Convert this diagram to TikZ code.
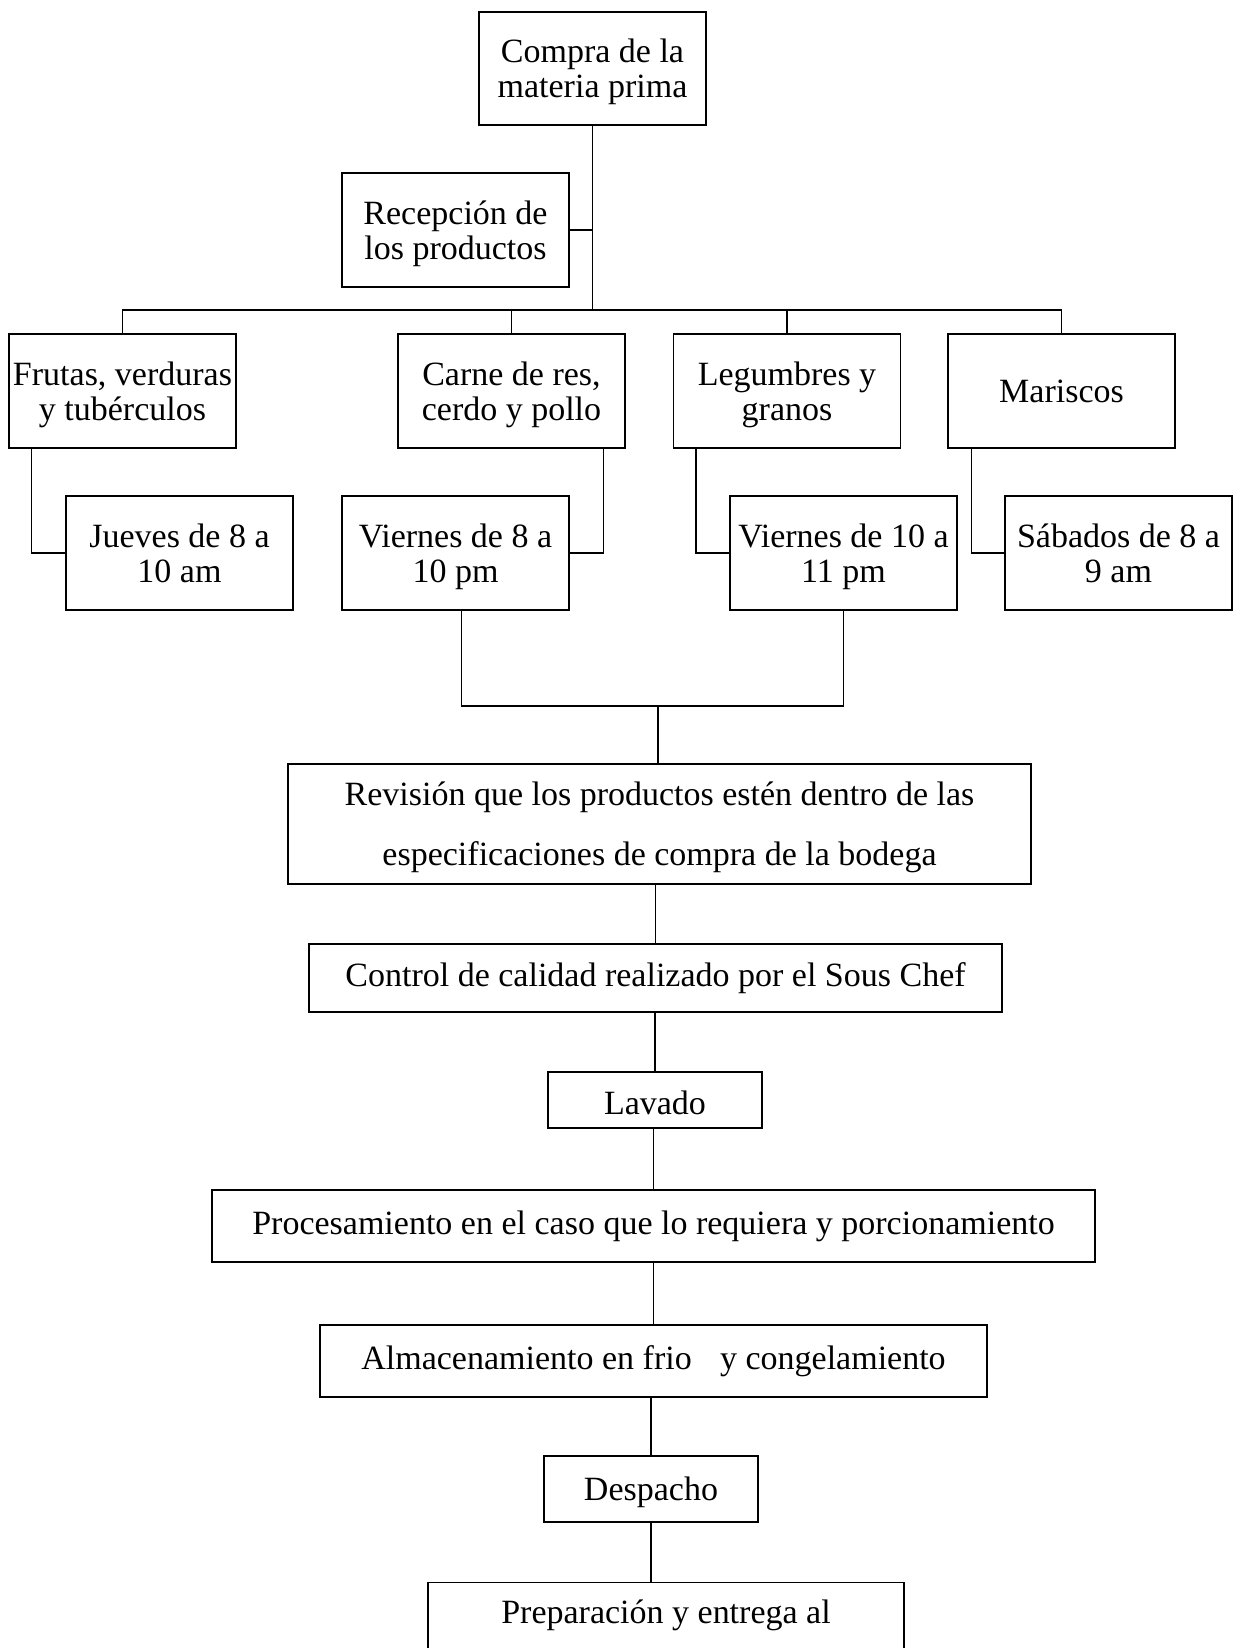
\documentclass[tikz,border=0pt]{standalone}
\usepackage{fontspec}
\setmainfont{Liberation Serif}
\usetikzlibrary{calc}
\newcommand{\pxu}{0.353pt}

\begin{document}
\begin{tikzpicture}[x=\pxu,y=-\pxu,
    caja/.style={draw,line width=0.5pt,align=center,inner sep=0pt,
      font=\fontsize{12}{12.4}\selectfont},
    tam/.style 2 args={minimum width=#1*\pxu,minimum height=#2*\pxu},
    baja/.style={text depth=0pt},
    linea/.style={line width=0.5pt}]
    \useasboundingbox (0,0) rectangle (1238,1648);
    \clip (0,0) rectangle (1238,1648);
    \node[caja,baja,tam={227}{113}] (compra) at (592.5,68.5) {Compra de la\\materia prima};
    \node[caja,baja,tam={227}{114}] (recepcion) at (455.5,230) {Recepción de\\los productos};
    \node[caja,baja,tam={227}{114}] (frutas) at (122.5,391) {Frutas, verduras\\y tubérculos};
    \node[caja,baja,tam={227}{114}] (carne) at (511.5,391) {Carne de res,\\cerdo y pollo};
    \node[caja,baja,tam={227}{114}] (legumbres) at (787,391) {Legumbres y\\granos};
    \node[caja,tam={227}{114}] (mariscos) at (1061.5,391) {Mariscos};
    \node[caja,baja,tam={227}{114}] (jueves) at (179.5,553) {Jueves de 8 a\\10 am};
    \node[caja,baja,tam={227}{114}] (viernesA) at (455.5,553) {Viernes de 8 a\\10 pm};
    \node[caja,baja,tam={227}{114}] (viernesB) at (843.5,553) {Viernes de 10 a\\11 pm};
    \node[caja,baja,tam={227}{114}] (sabados) at (1118.5,553) {Sábados de 8 a\\9 am};
    \node[caja,baja,tam={743}{120},font=\fontsize{12}{21.2}\selectfont] (revision) at (659.5,824)
      {Revisión que los productos estén dentro de las\\especificaciones de compra de la bodega};
    \node[caja,tam={693}{68}] (control) at (655.5,978) {Control de calidad realizado por el Sous Chef};
    \node[caja,baja,text height=10.2pt,tam={214}{56}] (lavado) at (655,1100) {Lavado};
    \node[caja,tam={883}{72}] (procesa) at (653.5,1226) {Procesamiento en el caso que lo requiera y porcionamiento};
    \node[caja,tam={667}{72}] (almacena) at (653.5,1361) {Almacenamiento en frio\hspace{10pt}y congelamiento};
    \node[caja,baja,tam={214}{66}] (despacho) at (651,1489) {Despacho};
    \node[caja,anchor=north,minimum width=476*\pxu,text height=41*\pxu,text depth=120*\pxu]
      (prepara) at (666,1582) {Preparación y entrega al};
    \coordinate (barra) at (592.5,310);
    \coordinate (union) at (658,706);
    \draw[linea] (compra.south) -- (compra.south |- barra);
    \draw[linea] (recepcion.east) -- (recepcion.east -| compra.south);
    \draw[linea] (frutas.north) |- (barra) -| (mariscos.north);
    \draw[linea] (carne.north) -- (carne.north |- barra);
    \draw[linea] (legumbres.north) -- (legumbres.north |- barra);
    \draw[linea] ([xshift=23*\pxu]frutas.south west) |- (jueves.west);
    \draw[linea] ([xshift=-22*\pxu]carne.south east) |- (viernesA.east);
    \draw[linea] ([xshift=23*\pxu]legumbres.south west) |- (viernesB.west);
    \draw[linea] ([xshift=24*\pxu]mariscos.south west) |- (sabados.west);
    \draw[linea] ([xshift=6*\pxu]viernesA.south) |- (union) -| (viernesB.south);
    \draw[linea] (union) -- (union |- revision.north);
    \foreach \a/\b in {revision/control,control/lavado,lavado/procesa,procesa/almacena,almacena/despacho}
      \draw[linea] (\b.north) -- (\b.north |- \a.south);
    \draw[linea] (despacho.south) -- (despacho.south |- prepara.north);
  \end{tikzpicture}
\end{document}
